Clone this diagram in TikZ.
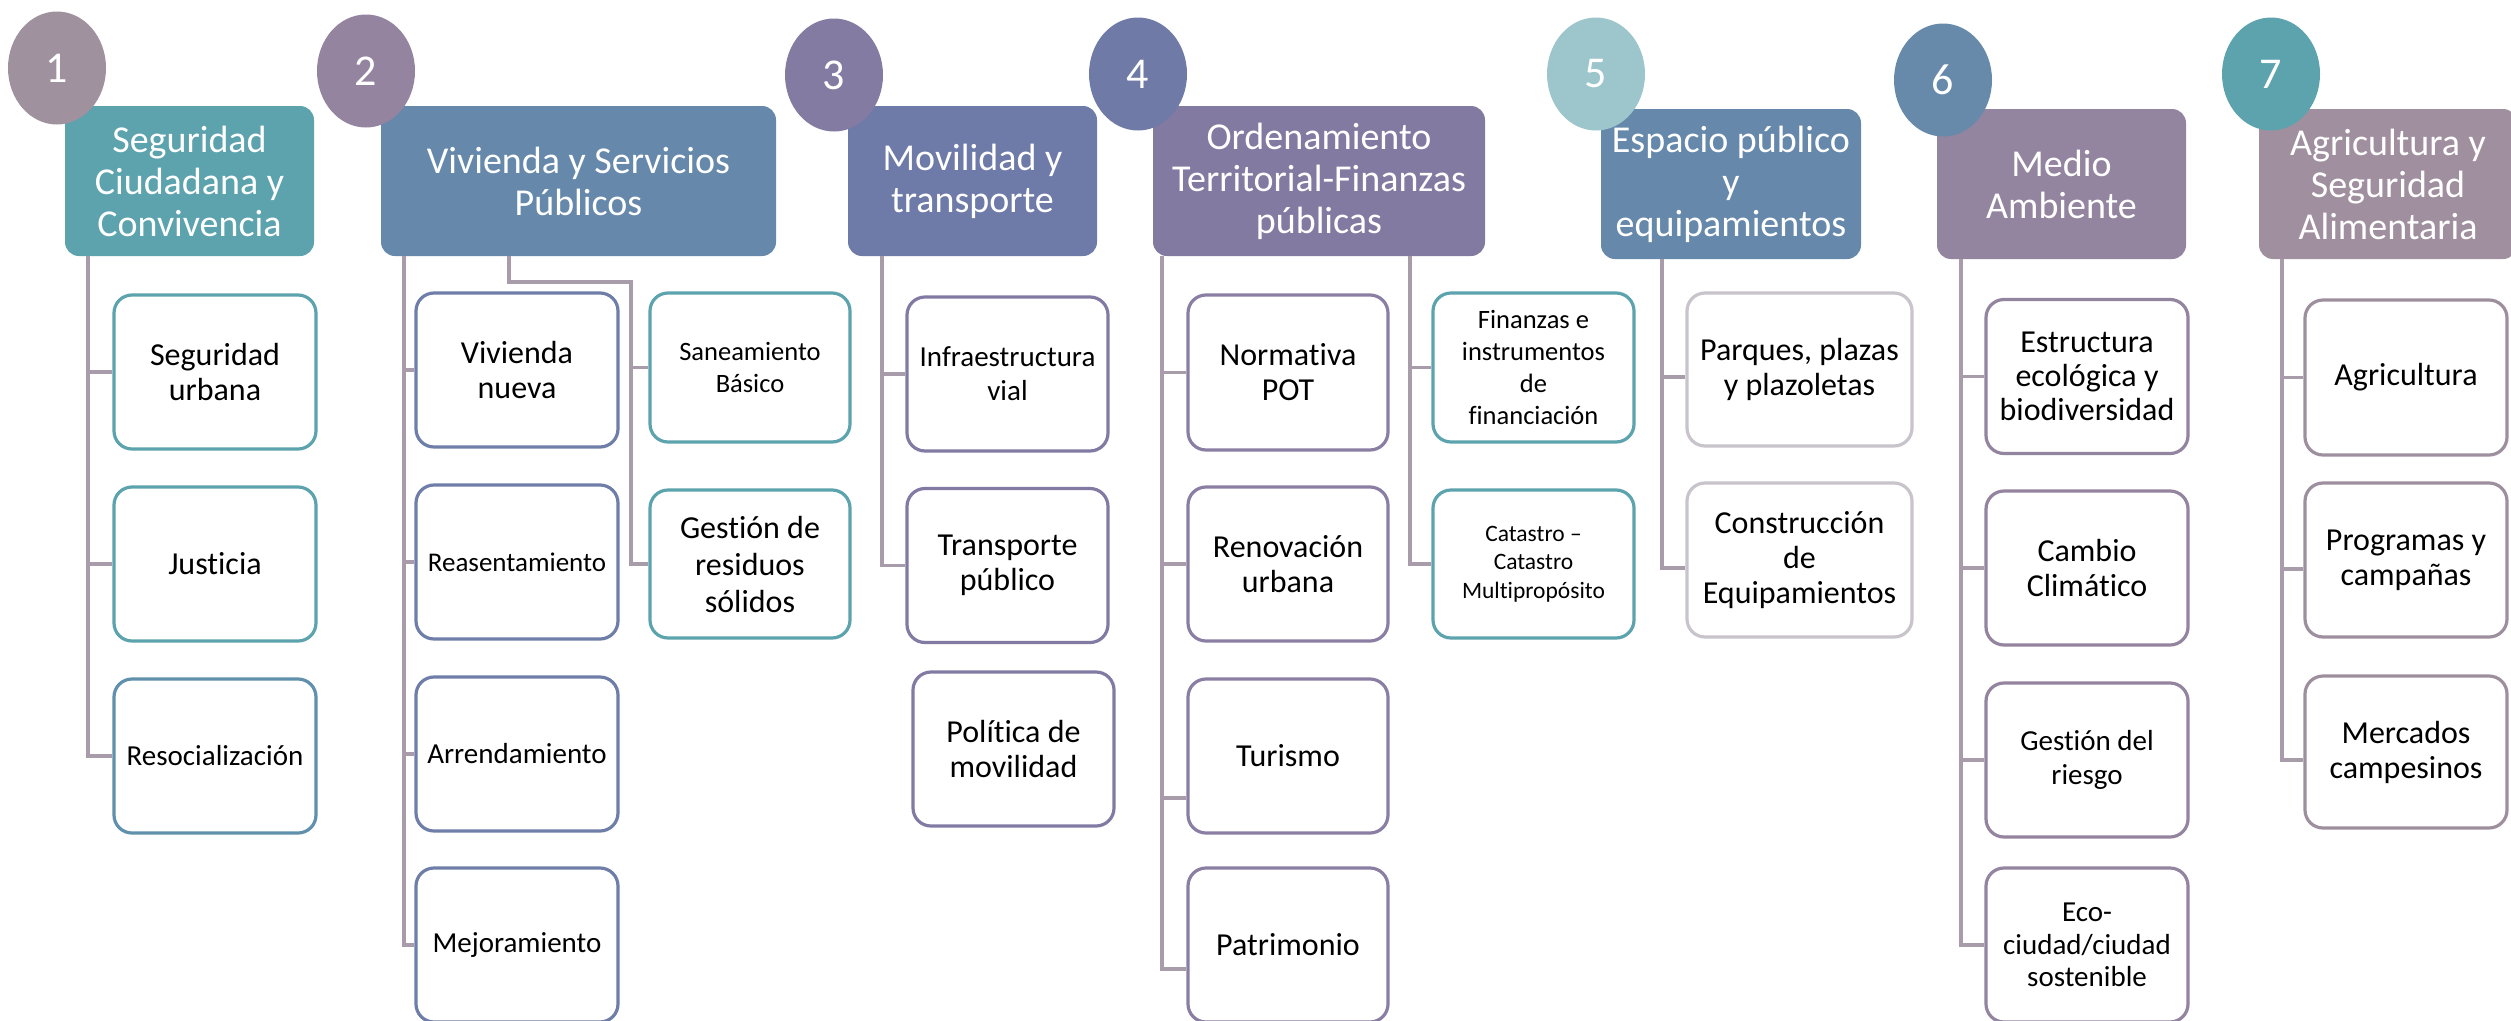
\documentclass[tikz,border=0pt]{standalone}
\usepackage{fontspec}
\setmainfont{Carlito}[Ligatures={TeX,NoCommon}]
\usetikzlibrary{shapes.geometric}
\newcommand\fs[2]{\fontsize{#1}{#2}\selectfont}
\definecolor{circA}{HTML}{A0919F}
\definecolor{circB}{HTML}{9484A0}
\definecolor{circC}{HTML}{847BA3}
\definecolor{circD}{HTML}{6F7AA7}
\definecolor{circE}{HTML}{9CC6CC}
\definecolor{circF}{HTML}{678AAA}
\definecolor{circG}{HTML}{5CA3AE}
\definecolor{hdA}{HTML}{5CA3AE}
\definecolor{hdB}{HTML}{6688AA}
\definecolor{hdC}{HTML}{6E7AA7}
\definecolor{hdD}{HTML}{837AA2}
\definecolor{hdE}{HTML}{6688AA}
\definecolor{hdF}{HTML}{93849F}
\definecolor{hdG}{HTML}{A0909F}
\definecolor{kTeal}{HTML}{5CA3AE}
\definecolor{kSteel}{HTML}{6090AB}
\definecolor{kBlue}{HTML}{6F7EA8}
\definecolor{kPurp}{HTML}{827AA3}
\definecolor{kPurpB}{HTML}{8A7FA3}
\definecolor{kGrey}{HTML}{C9C4CB}
\definecolor{kMauve}{HTML}{93849F}
\definecolor{kMauveB}{HTML}{9E8F9F}
\definecolor{linec}{HTML}{A89CAA}
\begin{document}
\begin{tikzpicture}[x=1pt,y=-1pt,
 hdr/.style={rounded corners=14pt, inner sep=0pt, text=white, align=center, font=\fs{38}{42}, minimum height=150pt},
 kid/.style={draw, line width=3.2pt, rounded corners=18pt, fill=white, inner sep=0pt, align=center, font=\fs{32}{35}, minimum width=202pt, minimum height=154pt, text=black},
 num/.style={ellipse, inner sep=0pt, minimum width=98pt, minimum height=113pt, text=white, font=\fs{44}{48}},
 conn/.style={draw=linec, line width=3.5pt}]
\clip (0,0) rectangle (2511,1020);
\fill[white] (0,0) rectangle (2511,1020);

% headers
\node[hdr, fill=hdA, minimum width=249pt] (h1) at (189.5,181) {Seguridad\\Ciudadana y\\Convivencia};
\node[hdr, fill=hdB, minimum width=395pt] (h2) at (578.5,181) {Vivienda y Servicios\\Públicos};
\node[hdr, fill=hdC, minimum width=249pt] (h3) at (972.5,181) {Movilidad y\\transporte};
\node[hdr, fill=hdD, minimum width=332pt] (h4) at (1319,181) {Ordenamiento\\Territorial-Finanzas\\públicas};
\node[hdr, fill=hdE, minimum width=260pt] (h5) at (1731,184) {Espacio público\\y\\equipamientos};
\node[hdr, fill=hdF, minimum width=249pt] (h6) at (2061.5,184) {Medio\\Ambiente};
\node[hdr, fill=hdG, minimum width=258pt] (h7) at (2388,184) {Agricultura y\\Seguridad\\Alimentaria};

% number circles
\node[num, fill=circA] (n1) at (57,68) {1};
\node[num, fill=circB] (n2) at (366,71) {2};
\node[num, fill=circC] (n3) at (834,75) {3};
\node[num, fill=circD] (n4) at (1138,74) {4};
\node[num, fill=circE] (n5) at (1596,74) {5};
\node[num, fill=circF] (n6) at (1943,80) {6};
\node[num, fill=circG] (n7) at (2271,74) {7};

% children
\node[kid, draw=kTeal] (c1a) at (215,372) {Seguridad\\urbana};
\node[kid, draw=kTeal] (c1b) at (215,564) {Justicia};
\node[kid, draw=kSteel, font=\fs{29}{34}] (c1c) at (215,756) {Resocialización};

\node[kid, draw=kBlue] (c2a) at (517,370) {Vivienda\\nueva};
\node[kid, draw=kBlue, font=\fs{27}{32}] (c2b) at (517,562) {Reasentamiento};
\node[kid, draw=kBlue, font=\fs{29}{34}] (c2c) at (517,754) {Arrendamiento};
\node[kid, draw=kBlue, font=\fs{29}{34}] (c2d) at (517,945) {Mejoramiento};
\node[kid, draw=kTeal, minimum width=200pt, minimum height=149pt, font=\fs{26.5}{32}] (c2e) at (750,367.5) {Saneamiento\\Básico};
\node[kid, draw=kTeal, minimum width=200pt, minimum height=148pt, font=\fs{32}{37}] (c2f) at (750,564) {Gestión de\\residuos\\sólidos};

\node[kid, draw=kPurp, minimum width=201pt, font=\fs{29}{34}] (c3a) at (1007.5,374) {Infraestructura\\vial};
\node[kid, draw=kPurp, minimum width=201pt] (c3b) at (1007.5,565.5) {Transporte\\público};
\node[kid, draw=kPurp, minimum width=201pt] (c3c) at (1013.5,749) {Política de\\movilidad};

\node[kid, draw=kPurpB, minimum width=200pt, minimum height=155pt] (c4a) at (1288,372.5) {Normativa\\POT};
\node[kid, draw=kPurpB, minimum width=200pt] (c4b) at (1288,564) {Renovación\\urbana};
\node[kid, draw=kPurpB, minimum width=200pt] (c4c) at (1288,756) {Turismo};
\node[kid, draw=kPurpB, minimum width=200pt] (c4d) at (1288,945) {Patrimonio};
\node[kid, draw=kTeal, minimum width=201pt, minimum height=149pt, font=\fs{26.5}{31.7}] (c4e) at (1533.5,367.5) {Finanzas e\\instrumentos\\de\\financiación};
\node[kid, draw=kTeal, minimum width=201pt, minimum height=148pt, font=\fs{23.5}{28.6}] (c4f) at (1533.5,564) {Catastro –\\Catastro\\Multipropósito};

\node[kid, draw=kGrey, minimum width=225pt, minimum height=153pt] (c5a) at (1799.5,369.5) {Parques, plazas\\y plazoletas};
\node[kid, draw=kGrey, minimum width=225pt] (c5b) at (1799.5,560) {Construcción\\de\\Equipamientos};

\node[kid, draw=kMauve, font=\fs{32}{34}] (c6a) at (2087,376.5) {Estructura\\ecológica y\\biodiversidad};
\node[kid, draw=kMauve] (c6b) at (2087,568) {Cambio\\Climático};
\node[kid, draw=kMauve, font=\fs{29}{34}] (c6c) at (2087,760) {Gestión del\\riesgo};
\node[kid, draw=kMauve, font=\fs{29}{32.5}] (c6d) at (2087,945) {Eco-\\ciudad/ciudad\\sostenible};

\node[kid, draw=kMauveB, minimum height=155pt] (c7a) at (2406,377.5) {Agricultura};
\node[kid, draw=kMauveB] (c7b) at (2406,560) {Programas y\\campañas};
\node[kid, draw=kMauveB, minimum height=152pt] (c7c) at (2406,752) {Mercados\\campesinos};

% connectors
\coordinate (t1) at (88,256);
\draw[conn] (t1) |- (c1a.west);
\draw[conn] (t1) |- (c1b.west);
\draw[conn] (t1) |- (c1c.west);

\coordinate (t2) at (404,256);
\draw[conn] (t2) |- (c2a.west);
\draw[conn] (t2) |- (c2b.west);
\draw[conn] (t2) |- (c2c.west);
\draw[conn] (t2) |- (c2d.west);
\coordinate (s2) at (509,256);
\coordinate (k2) at (631,282);
\draw[conn] (s2) |- (k2) |- (c2f.west);
\draw[conn] (k2) |- (c2e.west);

\coordinate (t3) at (882,256);
\draw[conn] (t3) |- (c3a.west);
\draw[conn] (t3) |- (c3b.west);

\coordinate (t4) at (1162,256);
\draw[conn] (t4) |- (c4a.west);
\draw[conn] (t4) |- (c4b.west);
\draw[conn] (t4) |- ([yshift=-42pt]c4c.west);
\draw[conn] (t4) |- ([yshift=-24pt]c4d.west);
\coordinate (u4) at (1410,256);
\draw[conn] (u4) |- (c4e.west);
\draw[conn] (u4) |- (c4f.west);

\coordinate (t5) at (1662,259);
\draw[conn] (t5) |- ([yshift=-7.5pt]c5a.west);
\draw[conn] (t5) |- ([yshift=-8pt]c5b.west);

\coordinate (t6) at (1961,259);
\draw[conn] (t6) |- (c6a.west);
\draw[conn] (t6) |- (c6b.west);
\draw[conn] (t6) |- (c6c.west);
\draw[conn] (t6) |- (c6d.west);

\coordinate (t7) at (2282,259);
\draw[conn] (t7) |- (c7a.west);
\draw[conn] (t7) |- ([yshift=-9pt]c7b.west);
\draw[conn] (t7) |- ([yshift=-8pt]c7c.west);
\end{tikzpicture}
\end{document}
